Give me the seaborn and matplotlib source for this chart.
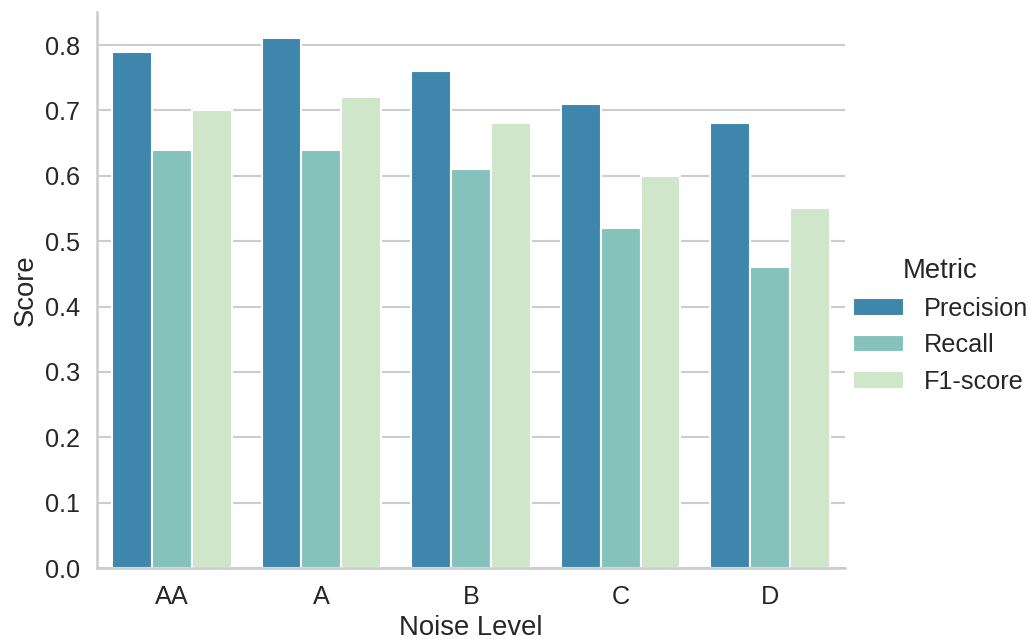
import matplotlib
matplotlib.use("Agg")
import matplotlib.pyplot as plt
import seaborn as sns
import pandas as pd

levels = ["AA", "A", "B", "C", "D"]
metrics = ["Precision", "Recall", "F1-score"]
precision = [0.79, 0.81, 0.76, 0.71, 0.68]
recall = [0.64, 0.64, 0.61, 0.52, 0.46]
f1 = [0.70, 0.72, 0.68, 0.60, 0.55]

rows = []
for m, vals in zip(metrics, [precision, recall, f1]):
    for lv, v in zip(levels, vals):
        rows.append({"Noise Level": lv, "Metric": m, "Score": v})
df = pd.DataFrame(rows)

sns.set_theme(style="whitegrid", context="talk", font_scale=1.1)
plt.rcParams['font.family'] = ['Liberation Sans', 'DejaVu Sans']

fig = plt.figure(figsize=(10.29, 6.39), dpi=100)
ax = fig.add_axes([0.0943, 0.1111, 0.8212 - 0.0943, 0.9812 - 0.1111])
sns.barplot(data=df, x="Noise Level", y="Score", hue="Metric",
            order=levels, hue_order=metrics, palette="GnBu_r", ax=ax)
sns.despine(ax=ax)
leg = ax.get_legend()
handles = leg.legend_handles
labels = [t.get_text() for t in leg.get_texts()]
leg.remove()
fig.legend(handles, labels, title="Metric", loc="center right",
           bbox_to_anchor=(1.021, 0.49), frameon=False)
fig.savefig("out.png", dpi=100)
